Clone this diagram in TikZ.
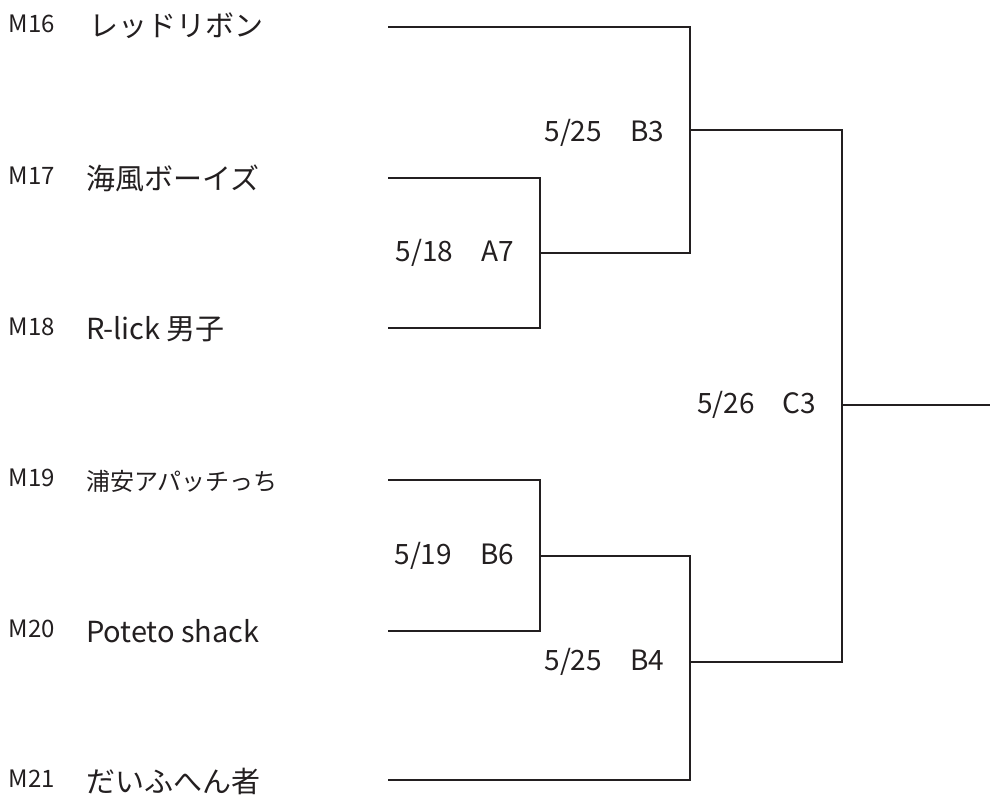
\documentclass[tikz,border=0pt]{standalone}
\usepackage{fontspec}
\setmainfont{Noto Sans CJK JP}
\usetikzlibrary{positioning}
\definecolor{ink}{HTML}{231F20}

\begin{document}
\begin{tikzpicture}[x=1pt, y=-1pt, font=\fontsize{29}{31}\selectfont, color=ink]
\tikzset{every node/.style={inner sep=0pt, outer sep=0pt}}

\tikzstyle{seed}=[anchor=west, font=\fontsize{24}{26}\selectfont]
\tikzstyle{team}=[anchor=west]
\tikzstyle{small team}=[anchor=west, font=\fontsize{24}{26}\selectfont]
\tikzstyle{game}=[font=\fontsize{28}{30}\selectfont]
\tikzstyle{wire}=[draw=ink, line width=2.8pt]

\useasboundingbox (0,0) rectangle (990,799);

% seeds and teams
\node[seed] (m16) at (9,24) {M16};
\node[team] (m16 name) at (89,26) {レッドリボン};
\node[seed] (m17) at (9,176) {M17};
\node[team] (m17 name) at (86,178) {海風ボーイズ};
\node[seed] (m18) at (9,327) {M18};
\node[team] (m18 name) at (86,329) {R-lick 男子};
\node[seed] (m19) at (9,478) {M19};
\node[small team] (m19 name) at (86,481) {浦安アパッチっち};
\node[seed] (m20) at (9,629) {M20};
\node[team] (m20 name) at (86,631) {Poteto shack};
\node[seed] (m21) at (9,779) {M21};
\node[team] (m21 name) at (86,781) {だいふへん者};

% line ends
\coordinate (t16) at (388,27);
\coordinate (t17) at (388,178);
\coordinate (t18) at (388,328);
\coordinate (t19) at (388,480);
\coordinate (t20) at (388,631);
\coordinate (t21) at (388,780);

% junctions
\coordinate (a7) at (540,253);
\coordinate (b6) at (540,556);
\coordinate (b3) at (690,130);
\coordinate (b4) at (690,662);
\coordinate (c3) at (842,405);
\coordinate (win) at (990,405);

\draw[wire] (t17) -| (a7) |- (t18);
\draw[wire] (t19) -| (b6) |- (t20);
\draw[wire] (t16) -| (b3) |- (a7);
\draw[wire] (b6) -| (b4) |- (t21);
\draw[wire] (b3) -| (c3) |- (b4);
\draw[wire] (c3) -- (win);

% games
\node[game, left=26pt of a7] (a7 label) {5/18\quad A7};
\node[game, left=26pt of b6] (b6 label) {5/19\quad B6};
\node[game, left=26pt of b3, yshift=-3pt] (b3 label) {5/25\quad B3};
\node[game, left=26pt of b4] (b4 label) {5/25\quad B4};
\node[game, left=26pt of c3] (c3 label) {5/26\quad C3};

\end{tikzpicture}
\end{document}
